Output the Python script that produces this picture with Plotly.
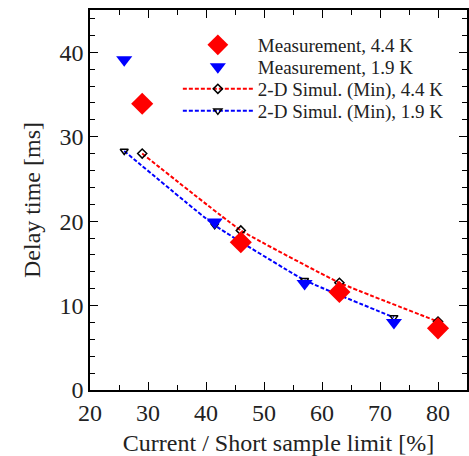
import plotly.graph_objects as go

meas44_x = [29, 46, 63, 80]
meas44_y = [33.9, 17.5, 11.6, 7.3]
meas19_x = [25.9, 41.5, 57, 72.4]
meas19_y = [39.1, 19.9, 12.6, 8.0]
sim44_x = [29, 46, 63, 80]
sim44_y = [28.0, 18.9, 12.7, 8.1]
sim19_x = [25.9, 41.5, 57, 72.4]
sim19_y = [28.3, 19.5, 13.0, 8.6]

font = "'Liberation Serif', 'Times New Roman', Times, serif"
fig = go.Figure()
fig.add_trace(go.Scatter(x=sim44_x, y=sim44_y, mode="lines+markers", name="2-D Simul. (Min), 4.4 K",
                         line=dict(color="#ff0000", dash="4px,2px", width=2, shape="spline", smoothing=0.3),
                         marker=dict(symbol="diamond-open", size=7, color="black", line=dict(width=1.5)),
                         legend="legend3"))
fig.add_trace(go.Scatter(x=sim19_x, y=sim19_y, mode="lines+markers", name="2-D Simul. (Min), 1.9 K",
                         line=dict(color="#0000ff", dash="4px,2px", width=2, shape="spline", smoothing=0.3),
                         marker=dict(symbol="triangle-down-open", size=7, color="black", line=dict(width=1.5)),
                         legend="legend4"))
fig.add_trace(go.Scatter(x=meas44_x, y=meas44_y, mode="markers", name="Measurement, 4.4 K",
                         marker=dict(symbol="diamond", size=17, color="#ff0000"), legend="legend"))
fig.add_trace(go.Scatter(x=meas19_x, y=meas19_y, mode="markers", name="Measurement, 1.9 K",
                         marker=dict(symbol="triangle-down", size=14, color="#0000ff"), legend="legend2"))

axis_common = dict(showline=True, linecolor="black", linewidth=1.5, mirror="allticks",
                   ticks="inside", ticklen=8, tickwidth=1.2, tickcolor="black", automargin=False,
                   showgrid=False, zeroline=False, tickfont=dict(size=24, color="#222", family=font))
fig.update_xaxes(range=[20, 85], dtick=10, tick0=20,
                 minor=dict(ticks="inside", dtick=5, tick0=20, ticklen=5, tickcolor="black"),
                 title=dict(text="Current / Short sample limit [%]", font=dict(size=24, color="#222", family=font), standoff=21),
                 **axis_common)
fig.update_yaxes(range=[0, 45], dtick=10, tick0=0,
                 minor=dict(ticks="inside", dtick=2, tick0=0, ticklen=5, tickcolor="black"),
                 title=dict(text="Delay time [ms]", font=dict(size=24, color="#222", family=font), standoff=12),
                 **axis_common)

def leg(py):
    return dict(x=0.233, y=(390 - py) / 380, xanchor="left", yanchor="middle", bgcolor="rgba(0,0,0,0)",
                font=dict(size=19, family=font, color="#222"), itemsizing="trace", itemwidth=70)

fig.update_layout(width=469, height=456, margin=dict(l=90, r=2, t=10, b=66),
                  plot_bgcolor="white", paper_bgcolor="white", showlegend=True,
                  font=dict(family=font, color="#222"),
                  legend=leg(45), legend2=leg(67), legend3=leg(89), legend4=leg(111))
fig.write_html("out.html")
